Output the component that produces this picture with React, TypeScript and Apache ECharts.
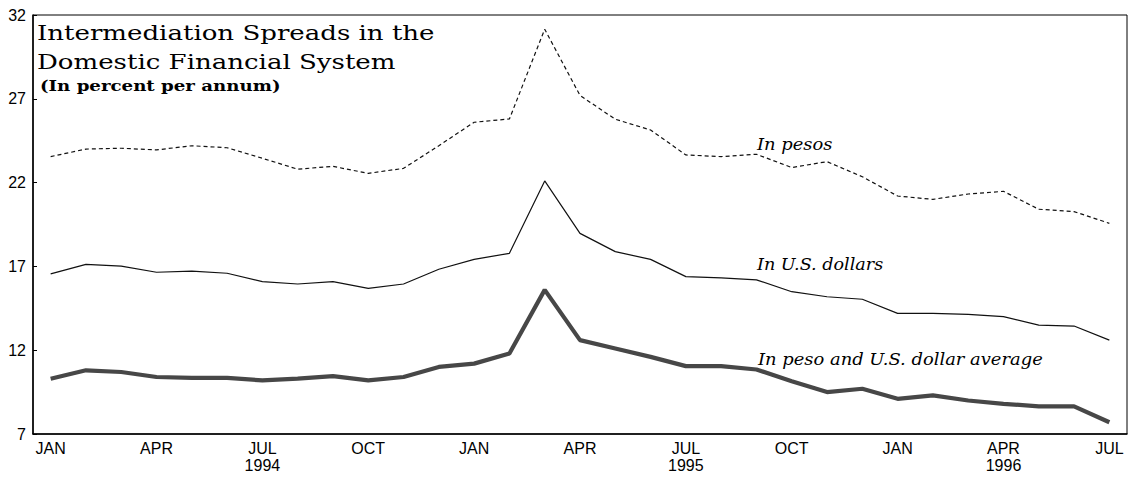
import React, { useEffect, useRef } from "react";
import * as echarts from "echarts";

const months = ["JAN","FEB","MAR","APR","MAY","JUN","JUL","AUG","SEP","OCT","NOV","DEC",
  "JAN","FEB","MAR","APR","MAY","JUN","JUL","AUG","SEP","OCT","NOV","DEC",
  "JAN","FEB","MAR","APR","MAY","JUN","JUL"];
const years = [1994,1994,1994,1994,1994,1994,1994,1994,1994,1994,1994,1994,
  1995,1995,1995,1995,1995,1995,1995,1995,1995,1995,1995,1995,
  1996,1996,1996,1996,1996,1996,1996];
// indexes whose label also carries the year
const yearLabelIdx = [6, 18, 27];

const pesos = [23.55, 24.0, 24.05, 23.95, 24.2, 24.08, 23.45, 22.8, 22.97, 22.55, 22.85, 24.2,
  25.6, 25.8, 31.15, 27.2, 25.78, 25.14, 23.65, 23.55, 23.69, 22.9, 23.25, 22.35,
  21.2, 21.0, 21.32, 21.48, 20.41, 20.27, 19.57];
const dollars = [16.55, 17.12, 17.02, 16.65, 16.72, 16.59, 16.09, 15.95, 16.09, 15.69, 15.95, 16.83,
  17.42, 17.78, 22.1, 18.97, 17.88, 17.42, 16.39, 16.31, 16.2, 15.49, 15.19, 15.04,
  14.2, 14.2, 14.14, 14.0, 13.5, 13.44, 12.6];
const average = [10.3, 10.8, 10.7, 10.4, 10.35, 10.35, 10.2, 10.3, 10.45, 10.2, 10.4, 11.0,
  11.2, 11.8, 15.6, 12.6, 12.1, 11.6, 11.05, 11.05, 10.85, 10.15, 9.5, 9.7,
  9.1, 9.3, 9.0, 8.8, 8.65, 8.65, 7.7];

const yMin = 7;
const yMax = 32;
const yStep = 5;

const titleLines = ["Intermediation Spreads in the", "Domestic Financial System"];
const subtitle = "(In percent per annum)";
const seriesNames = ["In pesos", "In U.S. dollars", "In peso and U.S. dollar average"];

const AXIS_FONT = "'Liberation Sans', Arial, sans-serif";
const SERIF = "'DejaVu Serif', 'Liberation Serif', serif";

function txt(text: string, x: number, y: number, font: string, scaleX: number) {
  return {
    type: "text", x, y, scaleX, scaleY: 1, originX: 0, originY: 0,
    style: { text, x: 0, y: 0, font, fill: "#000", textAlign: "left", textVerticalAlign: "top" },
  };
}

export default function App() {
  const ref = useRef<HTMLDivElement>(null);
  useEffect(() => {
    if (!ref.current) return;
    const chart = echarts.init(ref.current, null, { renderer: "svg" });
    const categories = months.map((m, i) => `${m} ${years[i]}`);
    chart.setOption({
      animation: false,
      backgroundColor: "#ffffff",
      grid: {
        left: 33, right: 2, top: 15, bottom: 45,
        show: true, borderColor: "#000", borderWidth: 1, backgroundColor: "transparent",
      },
      xAxis: {
        type: "category",
        data: categories,
        boundaryGap: true,
        axisLine: { lineStyle: { color: "#000", width: 1.5 } },
        axisTick: { inside: true, length: 5, interval: 0, lineStyle: { color: "#000" } },
        axisLabel: {
          interval: 2,
          margin: 6,
          color: "#000",
          fontFamily: AXIS_FONT,
          fontSize: 16,
          lineHeight: 17,
          formatter: (v: string, idx: number) => {
            const [m, y] = v.split(" ");
            return yearLabelIdx.includes(idx) ? `${m}\n${y}` : m;
          },
        },
        splitLine: { show: false },
      },
      yAxis: {
        type: "value",
        min: yMin,
        max: yMax,
        interval: yStep,
        axisLine: { show: true, lineStyle: { color: "#000", width: 1.5 } },
        axisTick: { show: true, inside: true, length: 4, lineStyle: { color: "#000" } },
        axisLabel: { color: "#000", fontFamily: AXIS_FONT, fontSize: 16, margin: 7 },
        splitLine: { show: false },
      },
      series: [
        {
          name: seriesNames[0], type: "line", data: pesos, symbol: "none",
          lineStyle: { color: "#111", width: 1.2, type: [4, 3] },
        },
        {
          name: seriesNames[1], type: "line", data: dollars, symbol: "none",
          lineStyle: { color: "#111", width: 1.2 },
        },
        {
          name: seriesNames[2], type: "line", data: average, symbol: "none",
          lineStyle: { color: "#474747", width: 4.2 },
        },
      ],
      graphic: [
        txt(titleLines[0], 37, 22, `21px ${SERIF}`, 1.24),
        txt(titleLines[1], 37, 51, `21px ${SERIF}`, 1.24),
        txt(subtitle, 40, 79, `bold 14px ${SERIF}`, 1.3),
        txt(seriesNames[0], 757, 136, `italic 16px ${SERIF}`, 1.12),
        txt(seriesNames[1], 757, 256, `italic 16px ${SERIF}`, 1.1),
        txt(seriesNames[2], 758, 351, `italic 16px ${SERIF}`, 1.12),
      ],
    });
    return () => chart.dispose();
  }, []);
  return (
    <div
      ref={ref}
      style={{ position: "fixed", left: 0, top: 0, width: 1129, height: 479, background: "#fff" }}
    />
  );
}
